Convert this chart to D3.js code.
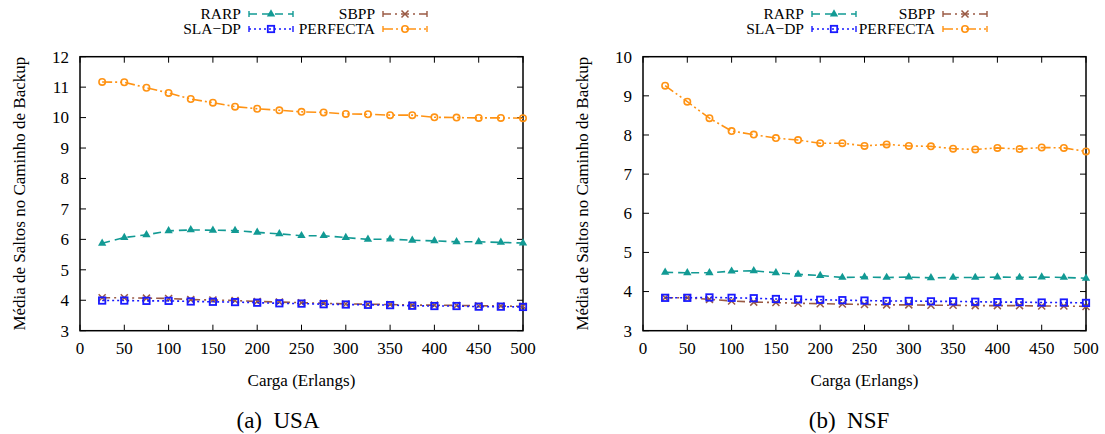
<!DOCTYPE html>
<html>
<head>
<meta charset="utf-8">
<script src="https://cdn.jsdelivr.net/npm/d3@7"></script>
<style>
  body { margin: 0; background: #fff; }
</style>
</head>
<body>
<script>
const loads = [25, 50, 75, 100, 125, 150, 175, 200, 225, 250, 275, 300, 325, 350, 375, 400, 425, 450, 475, 500]
const xTicks = [0, 50, 100, 150, 200, 250, 300, 350, 400, 450, 500]

// (a) USA
const usaRarp = [5.87, 6.06, 6.15, 6.28, 6.31, 6.30, 6.29, 6.23, 6.18, 6.12, 6.12, 6.06, 6.00, 6.01, 5.97, 5.95, 5.92, 5.92, 5.90, 5.88]
const usaSbpp = [4.08, 4.08, 4.07, 4.06, 4.02, 4.01, 3.99, 3.96, 3.94, 3.92, 3.90, 3.88, 3.87, 3.86, 3.84, 3.84, 3.83, 3.82, 3.81, 3.80]
const usaSladp = [3.99, 3.99, 3.98, 3.98, 3.96, 3.95, 3.94, 3.92, 3.90, 3.89, 3.87, 3.86, 3.85, 3.84, 3.82, 3.81, 3.81, 3.79, 3.79, 3.78]
const usaPerfecta = [11.17, 11.16, 10.98, 10.81, 10.61, 10.49, 10.36, 10.29, 10.24, 10.19, 10.17, 10.12, 10.11, 10.08, 10.08, 10.01, 10.00, 9.99, 9.99, 9.98]

// (b) NSF
const nsfRarp = [4.49, 4.48, 4.48, 4.52, 4.53, 4.48, 4.44, 4.41, 4.36, 4.37, 4.36, 4.37, 4.35, 4.36, 4.36, 4.37, 4.36, 4.37, 4.36, 4.34]
const nsfSbpp = [3.84, 3.84, 3.80, 3.76, 3.73, 3.72, 3.70, 3.69, 3.68, 3.67, 3.66, 3.66, 3.65, 3.65, 3.64, 3.64, 3.64, 3.63, 3.63, 3.62]
const nsfSladp = [3.84, 3.84, 3.85, 3.84, 3.83, 3.81, 3.80, 3.79, 3.78, 3.77, 3.76, 3.76, 3.75, 3.75, 3.74, 3.73, 3.73, 3.72, 3.72, 3.71]
const nsfPerfecta = [9.26, 8.85, 8.43, 8.10, 8.01, 7.92, 7.87, 7.79, 7.79, 7.72, 7.76, 7.72, 7.71, 7.65, 7.63, 7.67, 7.64, 7.68, 7.67, 7.58]

const yLabel = 'Média de Saltos no Caminho de Backup'
const xLabel = 'Carga (Erlangs)'

const FONT = "'Liberation Serif', 'Times New Roman', 'DejaVu Serif', serif"

const styles = {
  RARP:     { color: '#129a94', dash: '8,5', marker: 'triangle' },
  SBPP:     { color: '#9a5a44', dash: '8,4,2,4', marker: 'cross' },
  'SLA−DP': { color: '#1a1aff', dash: '2,3', marker: 'square' },
  PERFECTA: { color: '#ff9314', dash: '10,3,2,3,2,3', marker: 'circle' }
}

const svg = d3.select('body').append('svg')
  .attr('width', 1105)
  .attr('height', 434)
  .attr('font-family', FONT)

function drawMarker(g, type, cx, cy, color) {
  if (type === 'triangle') {
    g.append('path')
      .attr('d', d3.symbol(d3.symbolTriangle, 30)())
      .attr('transform', `translate(${cx},${cy})`)
      .attr('fill', color)
  } else if (type === 'cross') {
    g.append('path')
      .attr('d', `M-3.5,-3.5L3.5,3.5M-3.5,3.5L3.5,-3.5`)
      .attr('transform', `translate(${cx},${cy})`)
      .attr('stroke', color).attr('stroke-width', 1.5).attr('fill', 'none')
  } else if (type === 'square') {
    g.append('rect')
      .attr('x', cx - 3.2).attr('y', cy - 3.2)
      .attr('width', 6.4).attr('height', 6.4)
      .attr('stroke', color).attr('stroke-width', 1.8).attr('fill', 'none')
  } else {
    g.append('circle')
      .attr('cx', cx).attr('cy', cy).attr('r', 3.2)
      .attr('stroke', color).attr('stroke-width', 1.6).attr('fill', 'none')
  }
}

function panel(opts) {
  const x = d3.scaleLinear().domain([0, 500]).range([opts.left, opts.right])
  const y = d3.scaleLinear().domain([3, opts.yMax]).range([330.7, 56.7])
  const yTicks = d3.range(3, opts.yMax + 1)
  const g = svg.append('g')

  // ticks, gnuplot style (inside, mirrored)
  const tk = g.append('g').attr('stroke', '#000').attr('stroke-width', 1)
  xTicks.forEach(t => {
    tk.append('line').attr('x1', x(t)).attr('x2', x(t)).attr('y1', y(3)).attr('y2', y(3) - 6)
    tk.append('line').attr('x1', x(t)).attr('x2', x(t)).attr('y1', y(opts.yMax)).attr('y2', y(opts.yMax) + 6)
  })
  yTicks.forEach(t => {
    tk.append('line').attr('x1', x(0)).attr('x2', x(0) + 6).attr('y1', y(t)).attr('y2', y(t))
    tk.append('line').attr('x1', x(500)).attr('x2', x(500) - 6).attr('y1', y(t)).attr('y2', y(t))
  })

  g.append('rect')
    .attr('x', x(0)).attr('y', y(opts.yMax))
    .attr('width', x(500) - x(0)).attr('height', y(3) - y(opts.yMax))
    .attr('fill', 'none').attr('stroke', '#000').attr('stroke-width', 1.5)

  g.selectAll('.xt').data(xTicks).enter().append('text')
    .attr('x', d => x(d)).attr('y', 353.5)
    .attr('text-anchor', 'middle').attr('font-size', 17)
    .text(d => d)

  g.selectAll('.yt').data(yTicks).enter().append('text')
    .attr('x', x(0) - 11).attr('y', d => y(d) + 5.8)
    .attr('text-anchor', 'end').attr('font-size', 17)
    .text(d => d)

  g.append('text')
    .attr('transform', `translate(${opts.left - 55},${(y(3) + y(opts.yMax)) / 2}) rotate(-90)`)
    .attr('text-anchor', 'middle').attr('font-size', 17)
    .text(yLabel)

  g.append('text')
    .attr('x', (opts.left + opts.right) / 2).attr('y', 386)
    .attr('text-anchor', 'middle').attr('font-size', 17)
    .text(xLabel)

  g.append('text')
    .attr('x', opts.captionX).attr('y', 428)
    .attr('text-anchor', 'middle').attr('font-size', 23)
    .style('white-space', 'pre')
    .text(opts.caption)

  const line = d3.line().x((d, i) => x(loads[i])).y(d => y(d))
  const order = ['RARP', 'SBPP', 'SLA−DP', 'PERFECTA']
  order.forEach(name => {
    const s = styles[name]
    const vals = opts.series[name]
    g.append('path')
      .attr('d', line(vals))
      .attr('fill', 'none').attr('stroke', s.color)
      .attr('stroke-width', 1.6).attr('stroke-dasharray', s.dash)
    vals.forEach((v, i) => drawMarker(g, s.marker, x(loads[i]), y(v), s.color))
  })

  // legend: two columns, two rows
  const lg = g.append('g')
  const legendPos = [
    { name: 'RARP', tx: opts.leg1, row: 0 },
    { name: 'SBPP', tx: opts.leg2, row: 0 },
    { name: 'SLA−DP', tx: opts.leg1, row: 1 },
    { name: 'PERFECTA', tx: opts.leg2, row: 1 }
  ]
  legendPos.forEach(p => {
    const s = styles[p.name]
    const cy = 14 + p.row * 15
    lg.append('text')
      .attr('x', p.tx).attr('y', cy + 5)
      .attr('text-anchor', 'end').attr('font-size', 15.5)
      .text(p.name)
    const x1 = p.tx + 8, x2 = p.tx + 52
    lg.append('line')
      .attr('x1', x1).attr('x2', x2).attr('y1', cy).attr('y2', cy)
      .attr('stroke', s.color).attr('stroke-width', 1.6).attr('stroke-dasharray', s.dash)
    ;[x1, x2].forEach(xx => lg.append('line')
      .attr('x1', xx).attr('x2', xx).attr('y1', cy - 3).attr('y2', cy + 3)
      .attr('stroke', s.color).attr('stroke-width', 1.4))
    drawMarker(lg, s.marker, (x1 + x2) / 2, cy, s.color)
  })
}

panel({
  left: 80, right: 523, yMax: 12,
  leg1: 241, leg2: 375,
  caption: '(a)  USA', captionX: 278,
  series: { RARP: usaRarp, SBPP: usaSbpp, 'SLA−DP': usaSladp, PERFECTA: usaPerfecta }
})

panel({
  left: 643, right: 1086, yMax: 10,
  leg1: 804, leg2: 935,
  caption: '(b)  NSF', captionX: 849,
  series: { RARP: nsfRarp, SBPP: nsfSbpp, 'SLA−DP': nsfSladp, PERFECTA: nsfPerfecta }
})
</script>
</body>
</html>
